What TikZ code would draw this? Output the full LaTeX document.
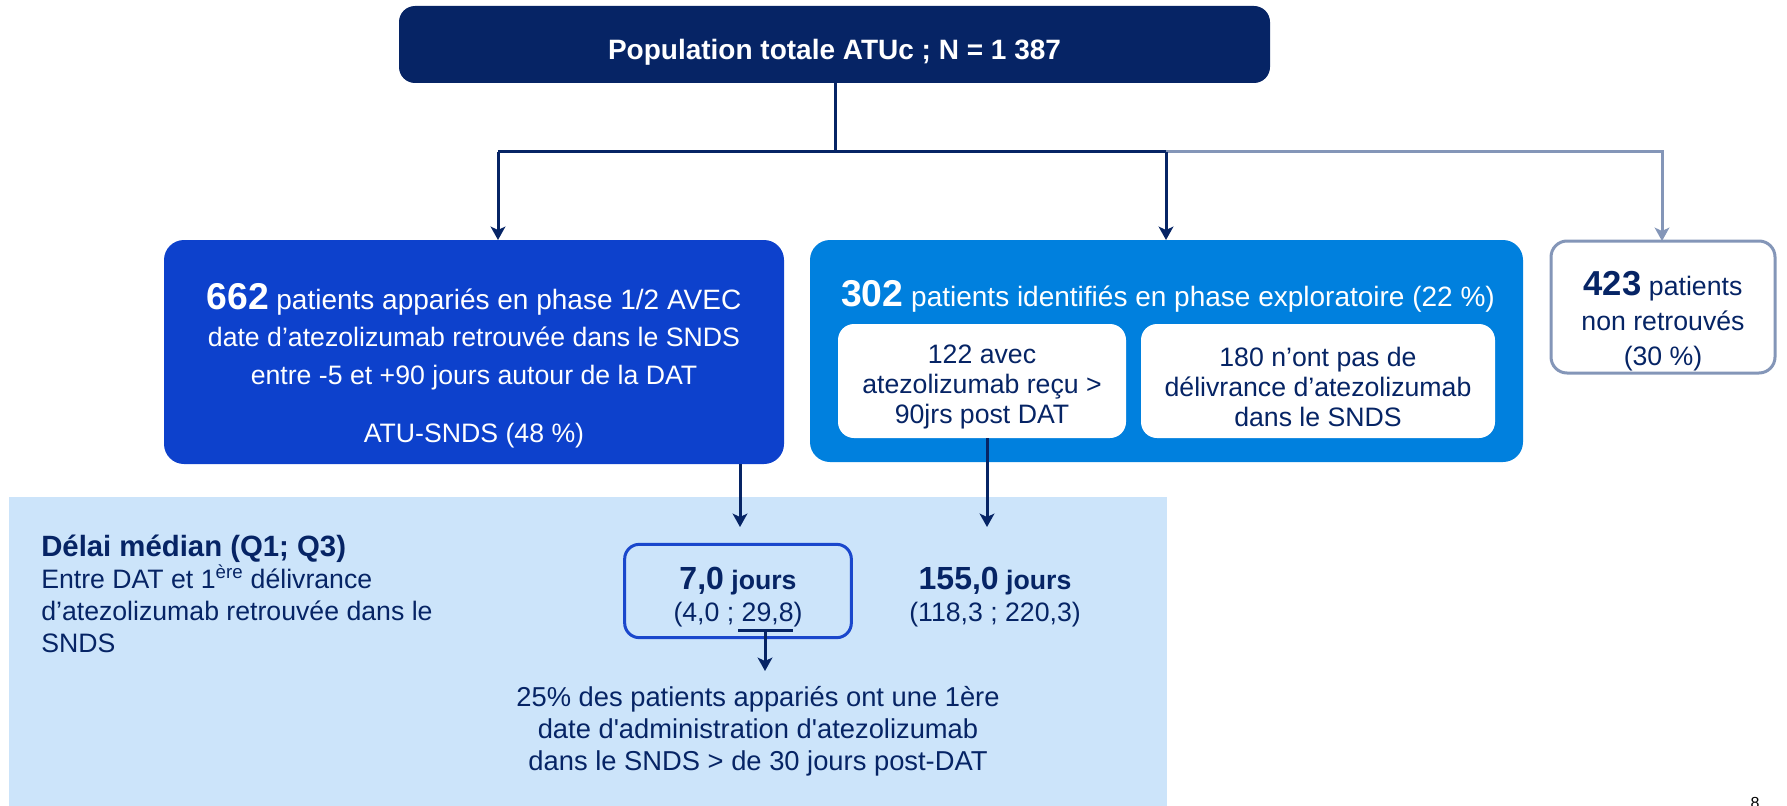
\documentclass[tikz,border=0pt]{standalone}
\usepackage{fontspec}
\setmainfont{Liberation Sans}
\usetikzlibrary{arrows.meta}
\definecolor{navy}{RGB}{6,36,101}
\definecolor{royal}{RGB}{13,65,204}
\definecolor{azure}{RGB}{0,128,222}
\definecolor{grayblue}{RGB}{132,150,184}
\definecolor{lightbg}{RGB}{204,228,250}
\definecolor{boxblue}{RGB}{26,71,204}
\newcommand\fs[2]{\fontsize{#1}{#2}\selectfont}
\begin{document}
\begin{tikzpicture}[x=0.75pt,y=-0.75pt,
  shapebox/.style={inner sep=0pt,outer sep=0pt},
  txt/.style={inner sep=0pt,align=center,font=\fs{20}{24}},
  link/.style={draw=navy,line width=2.25pt},
  glink/.style={draw=grayblue,line width=2.25pt},
  arr/.style={link,-{Stealth[length=10pt,width=11pt,inset=2.5pt]}},
  garr/.style={glink,-{Stealth[length=10pt,width=11pt,inset=2.5pt]}}]
\useasboundingbox (0,0) rectangle (1787,806);

% background panel
\node[shapebox,fill=lightbg,minimum width=868.5pt,minimum height=234pt] (bg) at (588,653) {};

% top box
\node[shapebox,fill=navy,rounded corners=12pt,minimum width=653.25pt,minimum height=57.75pt] (top) at (834.5,44.5) {};
\node[txt,text=white,font=\fs{21}{24}\bfseries] (topT) at (834.5,52.5) {Population totale ATUc ; N = 1 387};

% left box
\node[shapebox,fill=royal,rounded corners=15pt,minimum width=465pt,minimum height=168pt] (left) at (474,352) {};
\node[txt,text=white,font=\fs{20}{28}] (leftT) at (474,366)
  {{\fs{28}{28}\bfseries 662} {\fs{21}{28}patients appariés en phase 1/2 AVEC}\\date d’atezolizumab retrouvée dans le SNDS\\entre -5 et +90 jours autour de la DAT\\[16pt]ATU-SNDS (48 \%)};

% middle box
\node[shapebox,fill=azure,rounded corners=15pt,minimum width=534.75pt,minimum height=166.5pt] (mid) at (1166.5,351) {};
\node[txt,text=white,font=\fs{21}{24}] (midT) at (1168,296)
  {{\fs{28}{28}\bfseries 302} patients identifiés en phase exploratoire (22 \%)};
\node[shapebox,fill=white,rounded corners=12pt,minimum width=216pt,minimum height=85.5pt] (in1) at (982,381) {};
\node[txt,text=navy,font=\fs{20}{22.8}] (in1T) at (982,387) {122 avec\\atezolizumab reçu >\\90jrs post DAT};
\node[shapebox,fill=white,rounded corners=12pt,minimum width=265.5pt,minimum height=85.5pt] (in2) at (1318,381) {};
\node[txt,text=navy,font=\fs{20}{22.8}] (in2T) at (1318,387) {180 n’ont pas de\\délivrance d’atezolizumab\\dans le SNDS};

% right box
\node[shapebox,fill=white,draw=grayblue,line width=2.25pt,rounded corners=12pt,minimum width=168pt,minimum height=99pt] (right) at (1663,307) {};
\node[txt,text=navy,font=\fs{20}{26.5}] (rightT) at (1663,321)
  {{\fs{26}{26.5}\bfseries 423} patients\\non retrouvés\\(30 \%)};

% connectors from top
\coordinate (j) at (835,152);
\coordinate (jl) at (498,152);
\coordinate (jm) at (1166,152);
\coordinate (jr) at (1662,152);
\draw[link] (top.south -| j) -- (j);
\draw[link] (jl) -- (jm);
\draw[garr] (jm) -- (jr) -- (jr |- right.north);
\draw[arr] (jl) -- (jl |- left.north);
\draw[arr] (jm) -- (jm |- mid.north);

% lower panel
\node[anchor=north west,inner sep=0pt,align=left,text=navy,font=\fs{20}{24}] (delai) at (41,535)
  {{\fs{22}{26}\bfseries Délai médian (Q1; Q3)}\\Entre DAT et 1\textsuperscript{ère} délivrance\\d’atezolizumab retrouvée dans le\\SNDS};

\node[shapebox,draw=boxblue,line width=2.25pt,rounded corners=11pt,minimum width=170pt,minimum height=70pt] (med) at (738,591) {};
\node[txt,text=navy] (medT) at (738,597) {{\fs{24}{26}\bfseries 7,0} {\bfseries jours}\\(4,0 ; 29,8)};
\node[txt,text=navy] (longT) at (995,597) {{\fs{24}{26}\bfseries 155,0} {\bfseries jours}\\(118,3 ; 220,3)};

\coordinate (dl) at (740,527);
\coordinate (dm) at (987,527);
\draw[arr] (left.south -| dl) -- (dl);
\draw[arr] (in1.south -| dm) -- (dm);

\coordinate (ul1) at (738,630);
\coordinate (ul2) at (793,630);
\coordinate (ulm) at (765,630);
\coordinate (nt) at (765,671);
\draw[link] (ul1) -- (ul2);
\draw[arr] (ulm) -- (nt);

\node[txt,text=navy,font=\fs{20.5}{24}] (note) at (758,731)
  {25\% des patients appariés ont une 1ère\\date d\textquotesingle administration d\textquotesingle atezolizumab\\dans le SNDS > de 30 jours post-DAT};

\node[anchor=north,inner sep=0pt,font=\fs{12}{14}] (page) at (1755,797) {8};
\end{tikzpicture}
\end{document}
